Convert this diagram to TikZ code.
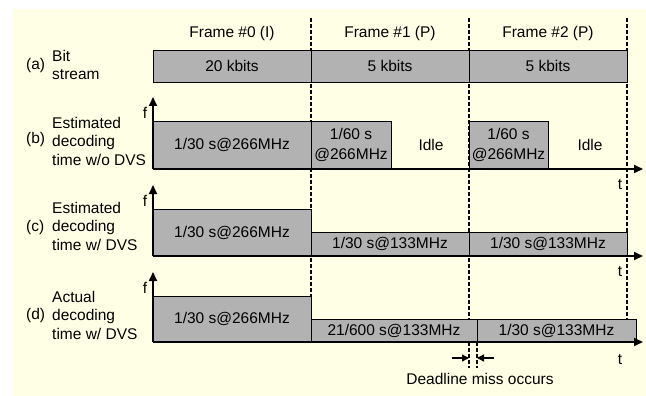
\documentclass[tikz,border=0pt]{standalone}
\usepackage{fontspec}
\setmainfont{Liberation Sans}
\usetikzlibrary{arrows.meta}
\definecolor{bgc}{HTML}{FFFFE6}
\definecolor{boxgray}{HTML}{B2B2B2}
\newcommand{\lblfont}{\fontsize{15.5}{18.5}\selectfont}
\begin{document}
\begin{tikzpicture}[x=1pt,y=-1pt,
  box/.style={draw=black, fill=boxgray, line width=0.9pt, inner sep=0pt, outer sep=0pt, anchor=north west, align=center, font=\lblfont},
  axis/.style={line width=1.8pt, -{Triangle[length=9pt,width=8pt]}},
  guide/.style={line width=1.3pt, dash pattern=on 4pt off 2pt},
  lbl/.style={font=\lblfont, inner sep=0pt, align=left},
  miss/.style={line width=1.3pt, -{Triangle[length=7pt,width=7pt]}}]
\useasboundingbox (0,0) rectangle (646,396);
\fill[bgc] (13,9) rectangle (646,396);

% guide lines
\coordinate (g0t) at (311,18); \coordinate (g0b) at (311,296);
\coordinate (g1t) at (469,18); \coordinate (g1b) at (469,368);
\coordinate (g2t) at (627,18); \coordinate (g2b) at (627,319);
\coordinate (g3t) at (477,342); \coordinate (g3b) at (477,368);
\draw[guide] (g0t) -- (g0b);
\draw[guide] (g1t) -- (g1b);
\draw[guide] (g2t) -- (g2b);
\draw[guide] (g3t) -- (g3b);

% frame headers
\node[lbl] (f0) at (232,33) {Frame \#0 (I)};
\node[lbl] (f1) at (390,33) {Frame \#1 (P)};
\node[lbl] (f2) at (548,33) {Frame \#2 (P)};

% (a) bit stream
\node[lbl, anchor=west] (la) at (26,65) {(a)};
\node[lbl, anchor=west] (ta) at (52,65) {Bit\\stream};
\node[box, minimum width=158pt, minimum height=32pt] (a0) at (153,50) {20 kbits};
\node[box, minimum width=158pt, minimum height=32pt] (a1) at (311,50) {5 kbits};
\node[box, minimum width=158pt, minimum height=32pt] (a2) at (469,50) {5 kbits};

% (b)
\node[lbl, anchor=west] (lb) at (26,139) {(b)};
\node[lbl, anchor=west] (tb) at (52,141) {Estimated\\decoding\\time w/o DVS};
\node[box, minimum width=158pt, minimum height=48pt] (b0) at (153,121) {1/30 s@266MHz};
\node[box, minimum width=80pt, minimum height=48pt, font=\fontsize{15.5}{20}\selectfont] (b1) at (311,121) {1/60 s\\@266MHz};
\node[box, minimum width=79pt, minimum height=48pt, font=\fontsize{15.5}{20}\selectfont] (b2) at (469,121) {1/60 s\\@266MHz};
\node[lbl] (i1) at (431,145) {Idle};
\node[lbl] (i2) at (590,145) {Idle};
\coordinate (bO) at (153,169);
\coordinate (bF) at (153,97);
\coordinate (bT) at (643,169);
\draw[axis] (bO) -- (bF);
\draw[axis] (bO) -- (bT);
\node[lbl] (bf) at (145,113) {f};
\node[lbl] (bt) at (620,185) {t};

% (c)
\node[lbl, anchor=west] (lc) at (26,227) {(c)};
\node[lbl, anchor=west] (tc) at (52,226) {Estimated\\decoding\\time w/ DVS};
\node[box, minimum width=158pt, minimum height=47pt] (c0) at (153,209) {1/30 s@266MHz};
\node[box, minimum width=158pt, minimum height=24pt] (c1) at (311,232) {1/30 s@133MHz};
\node[box, minimum width=158pt, minimum height=24pt] (c2) at (469,232) {1/30 s@133MHz};
\coordinate (cO) at (153,256);
\coordinate (cF) at (153,185);
\coordinate (cT) at (643,256);
\draw[axis] (cO) -- (cF);
\draw[axis] (cO) -- (cT);
\node[lbl] (cf) at (145,201) {f};
\node[lbl] (ct) at (620,272) {t};

% (d)
\node[lbl, anchor=west] (ld) at (26,315) {(d)};
\node[lbl, anchor=west] (td) at (52,315) {Actual\\decoding\\time w/ DVS};
\node[box, minimum width=158pt, minimum height=46pt] (d0) at (153,296) {1/30 s@266MHz};
\node[box, minimum width=166pt, minimum height=23pt] (d1) at (311,319) {21/600 s@133MHz};
\node[box, minimum width=159pt, minimum height=23pt] (d2) at (477,319) {1/30 s@133MHz};
\coordinate (dO) at (153,342);
\coordinate (dF) at (153,272);
\coordinate (dT) at (643,342);
\draw[axis] (dO) -- (dF);
\draw[axis] (dO) -- (dT);
\node[lbl] (df) at (145,288) {f};
\node[lbl] (dt) at (620,360) {t};

% deadline miss
\coordinate (m1s) at (452,358); \coordinate (m1e) at (469,358);
\coordinate (m2s) at (494,358); \coordinate (m2e) at (477,358);
\draw[miss] (m1s) -- (m1e);
\draw[miss] (m2s) -- (m2e);
\node[lbl] (dm) at (480,379) {Deadline miss occurs};
\end{tikzpicture}
\end{document}
